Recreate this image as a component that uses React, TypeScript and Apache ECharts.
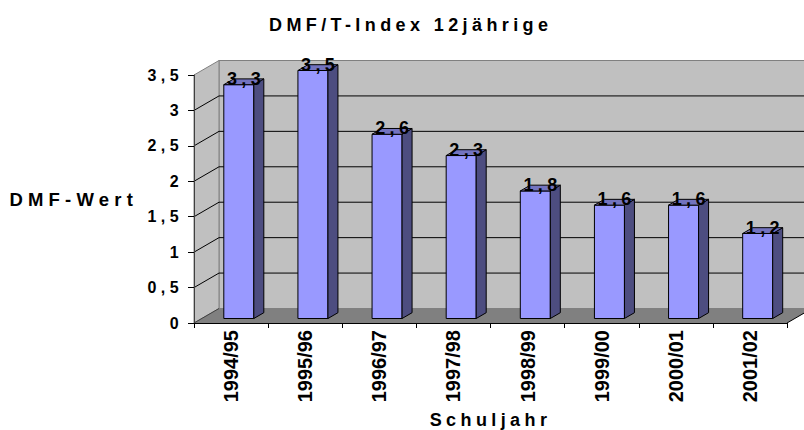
import { useEffect, useRef } from 'react';
import * as echarts from 'echarts';

const categories = ['1994/95', '1995/96', '1996/97', '1997/98', '1998/99', '1999/00', '2000/01', '2001/02'];
const dmfValues = [3.3, 3.5, 2.6, 2.3, 1.8, 1.6, 1.6, 1.2];
const yTicks = [0, 0.5, 1, 1.5, 2, 2.5, 3, 3.5];
const chartTitle = 'DMF/T-Index 12jährige';
const xTitle = 'Schuljahr';
const yTitle = 'DMF-Wert';

const DEPTH_X = 25;
const DEPTH_Y = -14.5;
const BAR_FRONT = 0.31;
const BAR_DEPTH = 0.4;
const BAR_WIDTH = 0.405;
const LS = 4.4;
const FONT = '"Liberation Sans", Arial, sans-serif';

const fmt = (v: number) => String(v).replace('.', ',');

export default function App() {
  const ref = useRef<HTMLDivElement>(null);

  useEffect(() => {
    const chart = echarts.init(ref.current!, null, { renderer: 'svg' });
    const yMax = yTicks[yTicks.length - 1];

    const wallsRender = (params: any, api: any) => {
      const cs = params.coordSys;
      const L = cs.x, R = cs.x + cs.width, T = cs.y, B = cs.y + cs.height;
      const dx = DEPTH_X, dy = DEPTH_Y;
      const children: any[] = [];
      children.push({
        type: 'polygon',
        shape: { points: [[L + dx, T + dy], [R + dx, T + dy], [R + dx, B + dy], [L + dx, B + dy]] },
        style: { fill: '#C0C0C0', stroke: '#808080', lineWidth: 1 },
      });
      children.push({
        type: 'polygon',
        shape: { points: [[L, T], [L + dx, T + dy], [L + dx, B + dy], [L, B]] },
        style: { fill: '#C0C0C0', stroke: '#808080', lineWidth: 1 },
      });
      children.push({
        type: 'polygon',
        shape: { points: [[L, B], [R, B], [R + dx, B + dy], [L + dx, B + dy]] },
        style: { fill: '#808080' },
      });
      children.push({
        type: 'line',
        shape: { x1: L, y1: B, x2: L + dx, y2: B + dy },
        style: { stroke: '#404040', lineWidth: 1 },
      });
      children.push({
        type: 'line',
        shape: { x1: R, y1: B, x2: R + dx, y2: B + dy },
        style: { stroke: '#000', lineWidth: 1 },
      });
      yTicks.filter((v) => v > 0 && v < yMax).forEach((v) => {
        const y = api.coord([0, v])[1];
        children.push({
          type: 'line',
          shape: { x1: L + dx, y1: y + dy, x2: R + dx, y2: y + dy },
          style: { stroke: '#000', lineWidth: 1 },
        });
        children.push({
          type: 'line',
          shape: { x1: L, y1: y, x2: L + dx, y2: y + dy },
          style: { stroke: '#000', lineWidth: 1 },
        });
      });
      return { type: 'group', children };
    };

    const barsRender = (params: any, api: any) => {
      const i = api.value(0);
      const v = api.value(1);
      const [cx, yTop] = api.coord([i, v]);
      const yBase = api.coord([i, 0])[1];
      const bw = api.size([1, 0])[0] * BAR_WIDTH;
      const ox = DEPTH_X * BAR_FRONT, oy = DEPTH_Y * BAR_FRONT;
      const sx = DEPTH_X * BAR_DEPTH, sy = DEPTH_Y * BAR_DEPTH;
      const xl = cx - bw / 2 + ox;
      const xr = xl + bw;
      const yt = yTop + oy;
      const yb = yBase + oy;
      return {
        type: 'group',
        children: [
          {
            type: 'rect',
            shape: { x: xl, y: yt, width: bw, height: yb - yt },
            style: { fill: '#9999FF', stroke: '#000', lineWidth: 1 },
          },
          {
            type: 'polygon',
            shape: { points: [[xr, yt], [xr + sx, yt + sy], [xr + sx, yb + sy], [xr, yb]] },
            style: { fill: '#4D4D80', stroke: '#000', lineWidth: 1 },
          },
          {
            type: 'polygon',
            shape: { points: [[xl, yt], [xl + sx, yt + sy], [xr + sx, yt + sy], [xr, yt]] },
            style: { fill: '#7373BF', stroke: '#000', lineWidth: 1 },
          },
          {
            type: 'text',
            x: xl + bw / 2 + sx / 2 + LS / 2,
            y: yt + sy / 2 - 3,
            style: {
              text: fmt(v),
              fontSize: 18,
              fontWeight: 'bold',
              fontFamily: FONT,
              fill: '#000',
              align: 'center',
              verticalAlign: 'middle',
            },
          },
        ],
      };
    };

    chart.setOption({
      animation: false,
      backgroundColor: '#fff',
      grid: { left: 194, right: 17, top: 75, bottom: 107, containLabel: false, outerBoundsMode: 'none' },
      xAxis: {
        type: 'category',
        data: categories,
        boundaryGap: true,
        z: 10,
        axisLine: { show: true, lineStyle: { color: '#000', width: 1 } },
        axisTick: { show: true, length: 5, lineStyle: { color: '#000' } },
        axisLabel: {
          rotate: 90,
          margin: 7,
          interval: 0,
          fontSize: 20,
          fontWeight: 'bold',
          fontFamily: FONT,
          color: '#000',
        },
        splitLine: { show: false },
        name: xTitle,
        nameLocation: 'middle',
        nameGap: 88,
        nameTextStyle: { fontSize: 18, fontWeight: 'bold', fontFamily: FONT, color: '#000' },
      },
      yAxis: {
        type: 'value',
        min: 0,
        max: yMax,
        interval: 0.5,
        z: 10,
        axisLine: { show: true, lineStyle: { color: '#404040', width: 1 } },
        axisTick: { show: true, length: 6, lineStyle: { color: '#000' } },
        axisLabel: {
          margin: 11,
          formatter: (v: number) => fmt(v),
          fontSize: 16,
          fontWeight: 'bold',
          fontFamily: FONT,
          color: '#000',
        },
        splitLine: { show: false },
        name: yTitle,
        nameLocation: 'middle',
        nameRotate: 0,
        nameGap: 56,
        nameTextStyle: { fontSize: 18.5, fontWeight: 'bold', fontFamily: FONT, color: '#000' },
      },
      graphic: [
        {
          type: 'text',
          x: 410.7,
          y: 25,
          style: {
            text: chartTitle,
            fontSize: 18,
            fontWeight: 'bold',
            fontFamily: FONT,
            fill: '#000',
            align: 'center',
            verticalAlign: 'middle',
          },
        },
      ],
      series: [
        {
          type: 'custom',
          silent: true,
          renderItem: wallsRender,
          data: [[0, 0]],
          encode: { x: 0, y: 1 },
          z: 1,
        },
        {
          type: 'custom',
          silent: true,
          renderItem: barsRender,
          data: dmfValues.map((v, i) => [i, v]),
          encode: { x: 0, y: 1 },
          z: 2,
        },
      ],
    });

    return () => chart.dispose();
  }, []);

  return (
    <>
      <style>{`
        #dmf-chart text[style*="18px"] { letter-spacing: ${LS}px; }
        #dmf-chart text[style*="18.5px"] { letter-spacing: 5.2px; }
        #dmf-chart text[style*="16px"] { letter-spacing: 4.4px; }
      `}</style>
      <div
        id="dmf-chart"
        ref={ref}
        style={{ position: 'fixed', left: 0, top: 0, width: 804, height: 430, background: '#fff' }}
      />
    </>
  );
}
